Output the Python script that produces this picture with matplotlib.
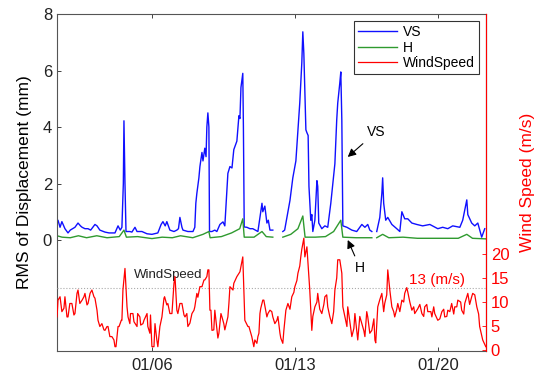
import numpy as np
import matplotlib
matplotlib.use("Agg")
import matplotlib.pyplot as plt

plt.rcParams['font.family'] = ['Liberation Sans', 'DejaVu Sans']

nan = np.nan
# time in days of January
vs_t = [1.35, 1.40, 1.50, 1.59, 1.74, 1.89, 2.00, 2.23, 2.38, 2.50, 2.58, 2.72, 2.87, 3.00, 3.21, 3.31,
        3.45, 3.70, 3.90, 4.19, 4.34, 4.45, 4.53, 4.60, 4.63, 4.68, 4.73, 4.92, 5.02, 5.17, 5.27, 5.51,
        5.76, 6.00, 6.29, 6.45, 6.54, 6.65, 6.73, 6.88, 7.08, 7.22, 7.30, 7.37, 7.47, 7.52, 7.76, 8.01,
        8.10, 8.15, 8.20, 8.30, 8.35, 8.45, 8.50, 8.59, 8.65, 8.69, 8.74, 8.79, 8.82, 8.94, 9.08, 9.18,
        9.33, 9.48, 9.57, 9.72, 9.82, 9.92, 10.01, 10.16, 10.26, 10.31, 10.36, 10.45, 10.48, 10.52,
        10.65, 10.80, 10.94, 11.19, 11.39, 11.43, 11.53, 11.63, 11.70, 11.78, 11.92, 12.10,
        12.41, 12.50, 12.61, 12.76, 12.90, 13.05, 13.15, 13.24, 13.34, 13.39, 13.44, 13.54, 13.59,
        13.65, 13.69, 13.78, 13.83, 13.88, 13.98, 14.08, 14.12, 14.17, 14.32, 14.47, 14.61, 14.76,
        14.86, 14.96, 15.05, 15.10, 15.20, 15.25, 15.30, 15.35, 15.55, 15.79, 16.03, 16.28, 16.43,
        16.57, 16.67, 16.77, 16.90, 17.01, 17.16, 17.26, 17.30, 17.35, 17.45, 17.55, 17.75, 17.99,
        18.14, 18.24, 18.38, 18.53, 18.73, 18.97, 19.26, 19.61, 20.00, 20.24, 20.49, 20.73, 21.08,
        21.22, 21.42, 21.47, 21.66, 21.81, 21.96, 22.15, 22.30]
vs_v = [0.55, 0.70, 0.45, 0.65, 0.40, 0.25, 0.35, 0.45, 0.60, 0.50, 0.45, 0.40, 0.40, 0.35, 0.55, 0.50,
        0.35, 0.28, 0.25, 0.25, 0.50, 0.35, 0.45, 2.00, 4.22, 2.00, 0.30, 0.30, 0.28, 0.45, 0.30, 0.30,
        0.22, 0.20, 0.25, 0.55, 0.65, 0.50, 0.65, 0.35, 0.30, 0.35, 0.40, 0.80, 0.45, 0.35, 0.30, 0.30,
        0.45, 1.30, 1.65, 2.20, 2.60, 3.10, 2.80, 3.25, 2.95, 4.00, 4.50, 4.00, 0.30, 0.30, 0.35, 0.30,
        0.55, 0.64, 0.50, 2.36, 2.60, 2.55, 3.20, 3.50, 4.40, 4.30, 5.40, 5.90, 4.00, 0.46,
        0.45, 0.40, 0.40, 0.30, 1.30, 1.00, 1.20, 0.60, 0.70, 0.35, 0.35, nan,
        0.30, 0.35, 0.80, 1.40, 2.20, 2.80, 3.90, 4.85, 6.27, 7.37, 6.60, 3.90, 3.80,
        3.70, 1.90, 0.70, 0.90, 0.30, 0.70, 2.10, 1.90, 0.60, 0.40, 0.50, 0.45, 1.30,
        2.00, 2.70, 4.25, 4.85, 5.55, 5.95, 4.25, 0.50, 0.45, 0.35, 0.30, 0.55, 0.45,
        0.55, 0.35, 0.30, nan, 0.30, 0.80, 1.65, 2.20, 1.30, 0.70, 0.80, 0.55, 0.40,
        0.30, 1.00, 0.75, 0.75, 0.60, 0.55, 0.50, 0.55, 0.40, 0.45, 0.40, 0.50, 0.45,
        0.70, 1.42, 0.90, 0.60, 0.50, 0.60, 0.10, 0.40]

h_t = [1.35, 1.60, 2.00, 2.40, 2.80, 3.30, 3.80, 4.40, 4.63, 4.75, 5.30, 6.00, 6.50, 7.00, 7.40, 8.00,
       8.50, 8.79, 8.85, 9.40, 9.90, 10.30, 10.45, 10.52, 11.00, 11.39, 11.60, 11.92, 12.10,
       12.41, 12.80, 13.15, 13.39, 13.50, 14.00, 14.50, 14.90, 15.25, 15.35, 16.00, 16.77, 16.90,
       17.01, 17.30, 17.60, 18.30, 19.00, 20.00, 21.00, 21.42, 21.70, 22.35]
h_v = [0.15, 0.10, 0.08, 0.15, 0.08, 0.15, 0.08, 0.12, 0.35, 0.10, 0.12, 0.05, 0.10, 0.08, 0.15, 0.08,
       0.20, 0.30, 0.08, 0.12, 0.25, 0.40, 0.75, 0.10, 0.10, 0.30, 0.12, 0.10, nan,
       0.10, 0.20, 0.40, 0.85, 0.10, 0.10, 0.12, 0.30, 0.70, 0.10, 0.08, 0.08, nan,
       0.08, 0.20, 0.08, 0.10, 0.06, 0.06, 0.06, 0.20, 0.06, 0.04]

# wind speed readings (first pass)
wind_t = [1.35, 1.40, 1.59, 1.74, 1.89, 2.08, 2.23, 2.38, 2.58, 2.72, 2.87, 3.06, 3.21, 3.36, 3.55,
          3.70, 3.85, 4.04, 4.19, 4.34, 4.53, 4.58, 4.68, 4.78, 4.92, 5.07, 5.27, 5.41, 5.56, 5.76,
          5.90, 6.00, 6.15, 6.29, 6.49, 6.59, 6.78, 6.98, 7.08, 7.27, 7.47, 7.62, 7.76, 7.96, 8.10,
          8.25, 8.45, 8.59, 8.74, 8.84, 8.94, 9.08, 9.23, 9.38, 9.52, 9.72, 9.82, 9.97, 10.16, 10.31,
          10.45, 10.55, 10.70, 10.89, 10.99, 11.19, 11.29, 11.43, 11.63, 11.78, 11.92, 12.12, 12.27,
          12.41, 12.56, 12.66, 12.85, 13.00, 13.15, 13.29, 13.44, 13.49, 13.59, 13.73, 13.83, 13.98,
          14.12, 14.32, 14.47, 14.61, 14.81, 14.96, 15.10, 15.20, 15.30, 15.35, 15.55, 15.59, 15.79,
          15.94, 16.08, 16.28, 16.43, 16.57, 16.77, 16.92, 17.06, 17.26, 17.40, 17.55, 17.75, 17.89,
          18.04, 18.24, 18.38, 18.53, 18.73, 18.87, 19.02, 19.22, 19.36, 19.51, 19.71, 19.85, 20.00,
          20.20, 20.34, 20.49, 20.68, 20.83, 20.98, 21.17, 21.32, 21.47, 21.66, 21.71, 21.91, 22.05,
          22.20, 22.35]
wind_v = [6.9, 10.4, 8.0, 11.1, 6.9, 9.7, 7.6, 12.5, 10.4, 11.8, 9.7, 12.5, 10.8, 6.2, 5.5,
          4.1, 4.9, 2.8, 0.7, 4.9, 6.2, 12.5, 17.0, 9.0, 5.5, 7.6, 4.9, 6.9, 5.5, 7.6,
          3.5, 0.7, 5.5, 0.7, 6.9, 10.8, 9.7, 7.6, 13.9, 7.6, 9.7, 6.9, 4.9, 7.6, 9.0,
          11.0, 13.2, 14.6, 16.7, 8.3, 4.1, 8.3, 2.5, 7.6, 5.5, 6.9, 13.2, 12.5, 15.3, 16.3,
          19.4, 6.2, 4.9, 2.8, 0.7, 2.8, 7.6, 10.4, 6.9, 8.3, 6.9, 6.2, 3.5,
          1.4, 8.3, 9.7, 11.1, 13.2, 16.0, 19.4, 23.3, 19.4, 21.5, 12.5, 4.1, 9.0,
          11.8, 7.6, 11.1, 9.0, 5.5, 12.5, 18.8, 18.8, 16.0, 9.0, 4.9, 9.0, 2.8,
          7.6, 2.1, 5.5, 2.8, 6.9, 4.1, 2.1, 9.0, 11.8, 9.7, 16.7, 9.0, 6.9,
          9.7, 10.4, 11.8, 12.1, 8.3, 7.6, 8.6, 7.6, 9.0, 8.0, 6.9, 7.6, 6.2,
          8.0, 6.9, 8.3, 9.7, 9.0, 10.4, 8.3, 9.7, 11.8, 11.1, 11.8, 9.0, 4.9,
          2.1, 0.7]

# wind speed readings (second pass, in between)
wind2_t = [1.36, 1.50, 1.69, 1.84, 1.98, 2.18, 2.33, 2.47, 2.67, 2.82, 2.97, 3.16, 3.31, 3.45, 3.65,
           3.80, 3.94, 4.14, 4.24, 4.39, 4.50, 4.83, 4.95, 5.12, 5.30, 5.45, 5.61, 5.80, 5.93, 6.10,
           6.24, 6.39, 6.62, 6.73, 6.88, 7.13, 7.22, 7.37, 7.57, 7.71, 7.86, 8.06, 8.20, 8.35, 8.55,
           8.69, 8.79, 8.89, 9.03, 9.28, 9.43, 9.57, 9.77, 10.01, 10.75, 11.04, 11.14, 11.24, 11.33,
           11.48, 11.68, 11.87, 12.02, 12.17, 12.31, 12.46, 12.76, 12.95, 13.10, 13.24, 13.34, 13.69,
           13.88, 14.08, 14.22, 14.42, 14.56, 14.71, 14.90, 15.05, 15.45, 15.69, 15.89, 16.18, 16.38,
           16.52, 16.67, 16.87, 16.96, 17.16, 17.35, 17.50, 17.65, 17.84, 17.99, 18.14, 18.33, 18.48,
           18.63, 18.82, 19.12, 19.31, 19.46, 19.66, 19.80, 20.10, 20.29, 20.44, 20.59, 20.78, 20.93,
           21.12, 21.27, 21.56, 21.81, 22.00]
wind2_v = [7.3, 11.1, 8.7, 6.9, 9.7, 7.3, 11.8, 9.7, 11.1, 9.4, 11.8, 11.1, 8.3, 4.9, 4.2,
           4.9, 2.8, 2.1, 0.7, 4.9, 6.2, 6.9, 7.6, 5.9, 7.6, 5.2, 6.2, 4.9, 7.3, 0.7,
           2.1, 4.9, 11.1, 9.4, 7.6, 15.3, 8.3, 9.7, 7.3, 7.6, 5.6, 8.3, 11.8, 13.2, 14.6,
           15.3, 16.7, 8.3, 4.2, 3.5, 6.9, 4.2, 9.7, 13.9, 4.9, 2.1, 1.4, 3.5, 8.7,
           10.4, 7.6, 8.0, 5.5, 7.0, 2.5, 4.0, 8.5, 12.0, 14.5, 17.5, 21.0, 15.0,
           7.0, 10.0, 8.5, 9.5, 11.5, 7.0, 8.0, 15.0, 7.0, 6.0, 4.5, 7.0, 4.0,
           8.0, 3.5, 6.5, 1.5, 10.5, 8.0, 11.5, 12.5, 8.0, 8.5, 8.0, 10.0, 13.0,
           10.0, 9.0, 9.5, 7.0, 9.5, 8.0, 9.0, 6.5, 8.5, 7.0, 8.0, 7.5, 9.0,
           10.0, 7.5, 9.5, 11.5, 7.5]

date_ticks = [6, 13, 20]
date_labels = ['01/06', '01/13', '01/20']
left_ticks = [0, 2, 4, 6, 8]
right_ticks = [0, 5, 10, 15, 20]
threshold = 13

wt = np.array(wind_t + wind2_t)
wv = np.array(wind_v + wind2_v)
order = np.argsort(wt, kind='stable')

fig = plt.figure(figsize=(5.35, 3.74), dpi=100)
ax = fig.add_axes([0.1065, 0.0615, 0.8015, 0.901])
ax2 = ax.twinx()

l1, = ax.plot(vs_t, vs_v, color='#1010ff', lw=1.0, label='VS')
l2, = ax.plot(h_t, h_v, color='#2f9a2f', lw=1.0, label='H')
l3, = ax2.plot(wt[order], wv[order], color='#ff0000', lw=0.9, label='WindSpeed')
ax2.axhline(threshold, color='#aaaaaa', ls=':', lw=0.8, zorder=0)

ax.set_xlim(1.35, 22.35)
ax.set_ylim(-3.93, 8)
ax2.set_ylim(-0.2, 70)
ax.set_yticks(left_ticks)
ax2.set_yticks(right_ticks)
ax.set_xticks(date_ticks)
ax.set_xticklabels(date_labels)

ax.tick_params(direction='in', length=3, labelsize=12, top=True, width=0.6, colors='#222222')
ax.tick_params(axis='x', pad=5)
ax2.tick_params(direction='in', length=3, labelsize=12, colors='red', width=0.6)
for s in ['left', 'top', 'bottom']:
    ax.spines[s].set_color('#555555')
    ax.spines[s].set_linewidth(0.8)
ax2.spines['right'].set_color('red')
ax2.spines['right'].set_linewidth(0.8)
ax2.spines['left'].set_visible(False)
ax2.spines['top'].set_visible(False)
ax2.spines['bottom'].set_visible(False)

ax.set_ylabel('RMS of Displacement (mm)', fontsize=12.5, labelpad=8)
ax2.set_ylabel('Wind Speed (m/s)', fontsize=12.5, color='red', labelpad=8)

leg = ax2.legend(handles=[l1, l2, l3], loc='upper right', fontsize=10, handlelength=2.8,
                 frameon=True, fancybox=False, edgecolor='black', borderpad=0.3,
                 labelspacing=0.1, borderaxespad=0.5, handletextpad=0.4)
leg.get_frame().set_linewidth(0.8)

ax.annotate('VS', xy=(15.59, 2.94), xytext=(16.98, 3.82), fontsize=10, ha='center', va='center',
            arrowprops=dict(arrowstyle='-|>', color='black', lw=0.8, mutation_scale=12, shrinkB=0))
ax.annotate('H', xy=(15.59, 0.0), xytext=(16.2, -1.0), fontsize=10, ha='center', va='center',
            arrowprops=dict(arrowstyle='-|>', color='black', lw=0.8, mutation_scale=12, shrinkB=0))
ax.text(6.78, -1.24, 'WindSpeed', fontsize=9.5, ha='center', va='center', color='#222222')
ax2.text(19.95, 14.6, '13 (m/s)', fontsize=11, ha='center', va='center', color='red')

fig.savefig('out.png', dpi=100)
